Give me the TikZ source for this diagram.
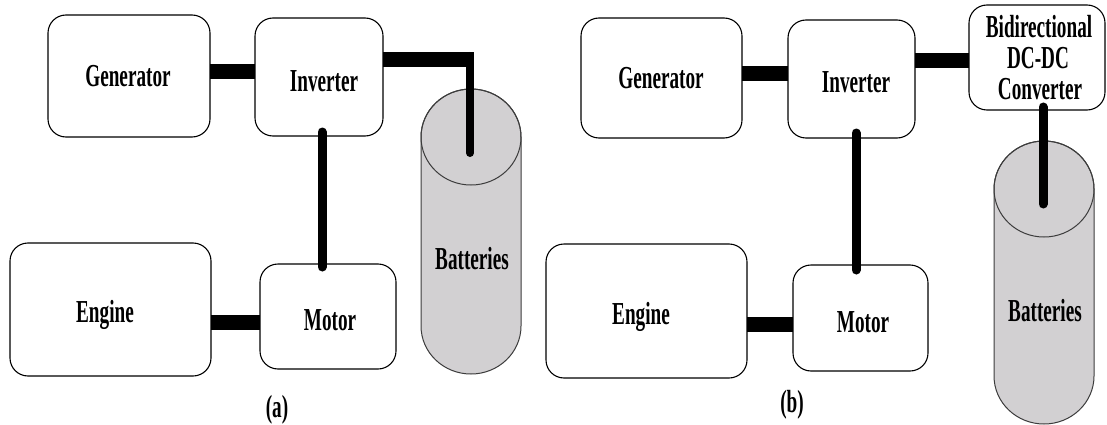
\documentclass[tikz,border=0pt]{standalone}
\usepackage{fontspec}
\setmainfont{Liberation Serif}[FakeStretch=0.6]
\definecolor{batfill}{RGB}{210,208,210}
\definecolor{batline}{RGB}{60,60,60}
\begin{document}
\begin{tikzpicture}[x=1pt,y=-1pt,
  box/.style={draw=black, line width=1.1pt, rounded corners=18pt, inner sep=0pt, outer sep=0pt, fill=white},
  lbl/.style={inner sep=0pt, anchor=base, font={\fontsize{32}{30}\selectfont\bfseries}},
  hbar/.style={line width=15pt},
  vbar/.style={line width=9pt, line cap=round},
  bat/.style={fill=batfill, draw=batline, line width=1pt}]
\useasboundingbox (0,0) rectangle (1107,425);

% ---------- panel (a) ----------
\node[box, minimum width=162pt, minimum height=122pt] (gena) at (129,76) {};
\node[box, minimum width=128pt, minimum height=118pt] (inva) at (319,77) {};
\node[box, minimum width=201pt, minimum height=133pt] (enga) at (110.5,309.5) {};
\node[box, minimum width=136pt, minimum height=105pt] (mota) at (328,316.5) {};

\path[bat] (421,137) -- (421,326) .. controls (421,352.5) and (443.4,374) .. (471,374)
  .. controls (498.6,374) and (521,352.5) .. (521,326) -- (521,137)
  .. controls (521,110.5) and (498.6,89) .. (471,89)
  .. controls (443.4,89) and (421,110.5) .. (421,137) -- cycle;
\draw[batline, line width=1pt] (471,137) ellipse [x radius=50, y radius=48];

\draw[hbar] ([yshift=4pt]gena.east) -- ([yshift=4pt]gena.east -| inva.west);
\draw[hbar] ([yshift=-12.5pt]enga.east) -- ([yshift=-12.5pt]enga.east -| mota.west);
\draw[vbar] ([xshift=3pt,yshift=4pt]inva.south) -- ([xshift=3pt,yshift=-3pt]inva.south |- mota.north);
\coordinate (cornera) at (474,59.5);
\coordinate (topa) at (470,56);
\coordinate (bata) at (470,153);
\draw[hbar] ([yshift=17.5pt]inva.east) -- (cornera);
\draw[vbar, line width=8pt] (topa) -- (bata);

\node[lbl] (tgena) at (128,87) {Generator};
\node[lbl] (tinva) at (324,92) {Inverter};
\node[lbl] (tenga) at (105,322) {Engine};
\node[lbl] (tmota) at (330,330) {Motor};
\node[lbl] (tbata) at (472,269) {Batteries};
\node[lbl] (capa) at (277,417) {(a)};

% ---------- panel (b) ----------
\node[box, minimum width=161pt, minimum height=120pt] (genb) at (661.5,78) {};
\node[box, minimum width=127pt, minimum height=118pt] (invb) at (851.5,79) {};
\node[box, minimum width=136pt, minimum height=105pt] (conv) at (1037,57.5) {};
\node[box, minimum width=201pt, minimum height=134pt] (engb) at (646.5,311) {};
\node[box, minimum width=135pt, minimum height=106pt] (motb) at (860.5,318) {};

\path[bat] (994,189) -- (994,376) .. controls (994,402.5) and (1016.4,424) .. (1044,424)
  .. controls (1071.6,424) and (1094,402.5) .. (1094,376) -- (1094,189)
  .. controls (1094,162.5) and (1071.6,141) .. (1044,141)
  .. controls (1016.4,141) and (994,162.5) .. (994,189) -- cycle;
\draw[batline, line width=1pt] (1044,189) ellipse [x radius=50, y radius=48];

\draw[hbar] ([yshift=4pt]genb.east) -- ([yshift=4pt]genb.east -| invb.west);
\draw[hbar] ([yshift=18pt]invb.east) -- ([yshift=18pt]invb.east -| conv.west);
\draw[hbar] ([yshift=-13pt]engb.east) -- ([yshift=-13pt]engb.east -| motb.west);
\draw[vbar] ([xshift=4.5pt,yshift=5pt]invb.south) -- ([xshift=4.5pt,yshift=-5pt]invb.south |- motb.north);
\coordinate (batb) at (1043,204);
\draw[vbar] ([xshift=6pt,yshift=3pt]conv.south) -- (batb);

\node[lbl] (tgenb) at (661,89) {Generator};
\node[lbl] (tinvb) at (856,93) {Inverter};
\node[lbl] (tconv1) at (1039,38) {Bidirectional};
\node[lbl] (tconv2) at (1038,69) {DC-DC};
\node[lbl] (tconv3) at (1040,100) {Converter};
\node[lbl] (tengb) at (641,324) {Engine};
\node[lbl] (tmotb) at (863,332) {Motor};
\node[lbl] (tbatb) at (1045,321) {Batteries};
\node[lbl] (capb) at (792,412) {(b)};
\end{tikzpicture}
\end{document}
